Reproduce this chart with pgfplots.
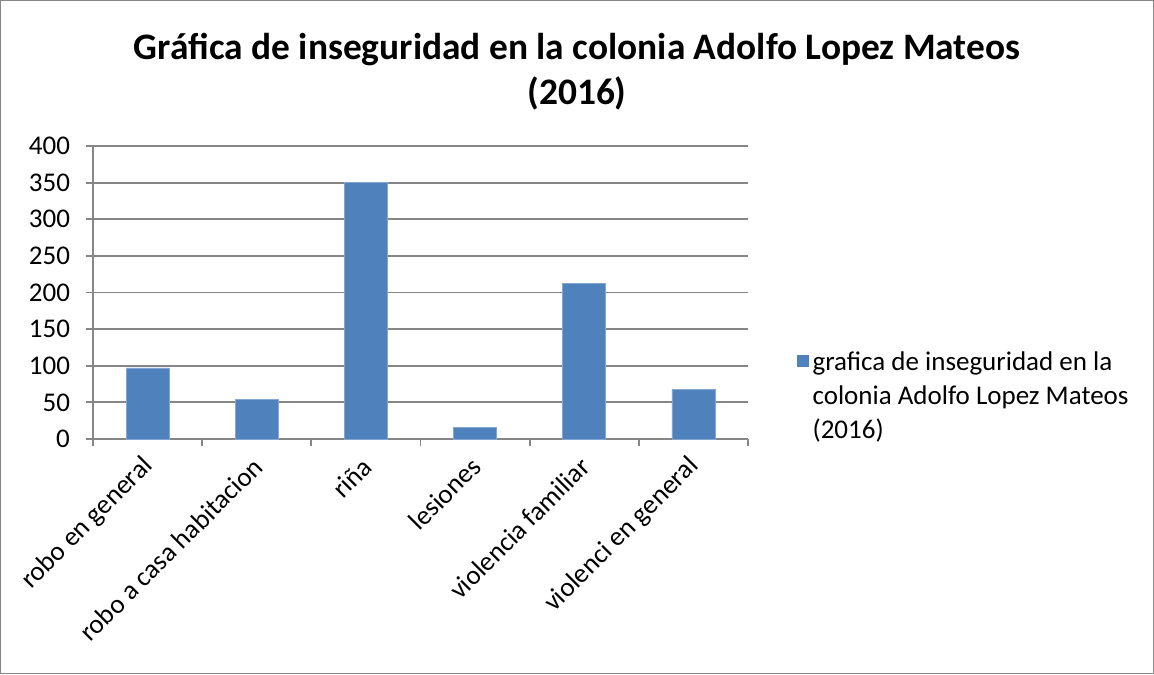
\documentclass[border=0pt]{standalone}
\usepackage{pgfplots}
\pgfplotsset{compat=1.18}
\usepackage{fontspec}
\setmainfont{Carlito}
\definecolor{barblue}{RGB}{79,129,189}
\definecolor{gridgray}{RGB}{134,134,134}
\begin{document}
\begin{tikzpicture}[x=1pt,y=1pt]
\draw[gridgray, line width=0.7pt] (0.35,0.35) rectangle (576.65,336.65);
\node[font=\bfseries\fontsize{18.7}{22}\selectfont, anchor=base] at (288.5,307) {Gráfica de inseguridad en la colonia Adolfo Lopez Mateos};
\node[font=\bfseries\fontsize{18.7}{22}\selectfont, anchor=base] at (288.5,284.5) {(2016)};
\begin{axis}[
  at={(46.5pt,117.5pt)}, anchor=south west,
  scale only axis, width=327.5pt, height=146.5pt,
  xmin=-0.5, xmax=5.5, ymin=0, ymax=400,
  ytick={0,50,...,400},
  ymajorgrids, grid style={gridgray, line width=0.9pt},
  axis lines*=left,
  axis line style={gridgray, line width=0.9pt},
  tick style={gridgray, line width=0.9pt},
  tick align=outside, major tick length=3.5pt,
  xtick={-0.5,0.5,...,5.5}, xticklabels={},
  extra x ticks={0,1,2,3,4,5},
  extra x tick labels={robo en general,robo a casa habitacion,riña,lesiones,violencia familiar,violenci en general},
  extra x tick style={major tick length=0pt, xticklabel style={xshift=3pt, yshift=-9.2pt, rotate=45, anchor=east}},
  tick label style={font=\fontsize{13.5}{16}\selectfont, text=black},
  yticklabel style={xshift=-4.5pt},
  /pgf/number format/assume math mode=true,
  legend style={draw=none, fill=none, at={(1.065,0.326)}, anchor=north west,
    font=\fontsize{13.5}{17}\selectfont, nodes={align=left}},
  legend cell align=left,
  legend image code/.code={\fill[barblue] (-1pt,15pt) rectangle (4.5pt,20.5pt);},
]
\addplot[ybar, bar width=21.5pt, fill=barblue, draw=barblue!70!white, line width=0.3pt] coordinates {(0,97) (1,54) (2,350) (3,16) (4,212) (5,68)};
\addlegendentry{grafica de inseguridad en la\\colonia Adolfo Lopez Mateos\\(2016)}
\end{axis}
\end{tikzpicture}
\end{document}
